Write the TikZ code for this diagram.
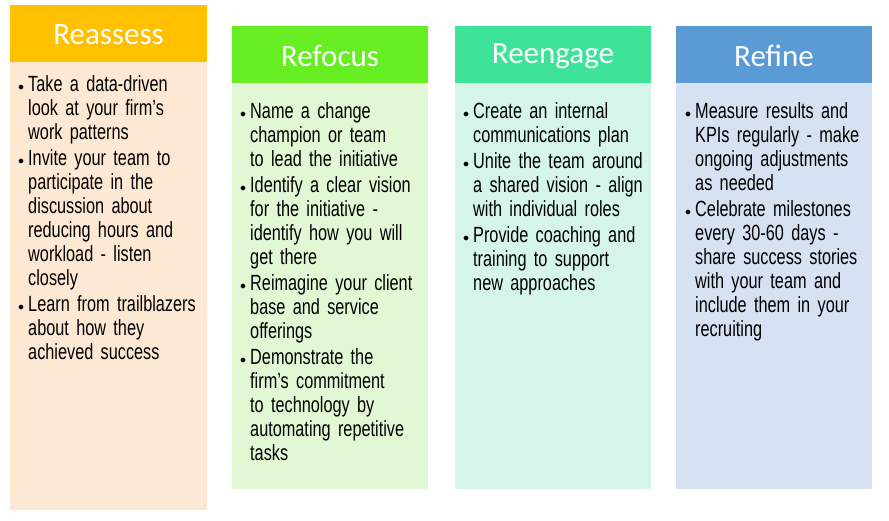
\documentclass[tikz,border=0pt]{standalone}
\usepackage{fontspec}
\setmainfont{Carlito}
\newfontfamily\bodyfont[FakeStretch=0.74]{Liberation Sans}
\definecolor{h1}{HTML}{FFC000}\definecolor{b1}{HTML}{FDE9D3}
\definecolor{h2}{HTML}{66EE22}\definecolor{b2}{HTML}{E2F8D5}
\definecolor{h3}{HTML}{3EE39A}\definecolor{b3}{HTML}{D5F5EA}
\definecolor{h4}{HTML}{5B9BD5}\definecolor{b4}{HTML}{D6E1F1}
\newcommand{\bodyset}{\bodyfont\fontsize{22}{24}\selectfont\hyphenpenalty=10000 \exhyphenpenalty=10000 }
\newcommand{\itm}[1]{\par\hangindent=10pt\hangafter=1\noindent\makebox[10pt][l]{\raisebox{1pt}{\fontsize{12}{12}\selectfont$\bullet$}}#1\par\vspace{2pt}}
\begin{document}
\begin{tikzpicture}[x=1pt,y=-1pt,
 hdr/.style={text=white,font=\fontsize{31}{34}\selectfont,anchor=center},
 bdy/.style={anchor=north west,text width=182pt,align=left,inner sep=0pt,font=\bodyset}]
\useasboundingbox (0,0) rectangle (889,520);
\fill[b1] (10,62) rectangle (207,510);
\fill[h1] (10,5) rectangle (207,62);
\node[hdr] (t1) at (108.5,35) {Reassess};
\node[bdy] (c1) at (18,67) {\itm{Take a data-driven look at your firm’s work patterns}\itm{Invite your team to participate in the discussion about reducing hours and workload - listen closely}\itm{Learn from trailblazers about how they achieved success}};
\fill[b2] (232,83) rectangle (428,489);
\fill[h2] (232,26) rectangle (428,83);
\node[hdr] (t2) at (330,56) {Refocus};
\node[bdy] (c2) at (240,94) {\itm{Name a change champion or team to lead the initiative}\itm{Identify a clear vision for the initiative - identify how you will get there}\itm{Reimagine your client base and service offerings}\itm{Demonstrate the firm’s commitment to technology by automating repetitive tasks}};
\fill[b3] (455,83) rectangle (651,489);
\fill[h3] (455,26) rectangle (651,83);
\node[hdr] (t3) at (553,56) {Reengage};
\node[bdy] (c3) at (463,94) {\itm{Create an internal communications plan}\itm{Unite the team around a shared vision - align with individual roles}\itm{Provide coaching and training to support new approaches}};
\fill[b4] (676,83) rectangle (872,489);
\fill[h4] (676,26) rectangle (872,83);
\node[hdr] (t4) at (774,56) {Refine};
\node[bdy] (c4) at (685,94) {\itm{Measure results and KPIs regularly - make ongoing adjustments as needed}\itm{Celebrate milestones every 30-60 days - share success stories with your team and include them in your recruiting}};
\end{tikzpicture}
\end{document}
